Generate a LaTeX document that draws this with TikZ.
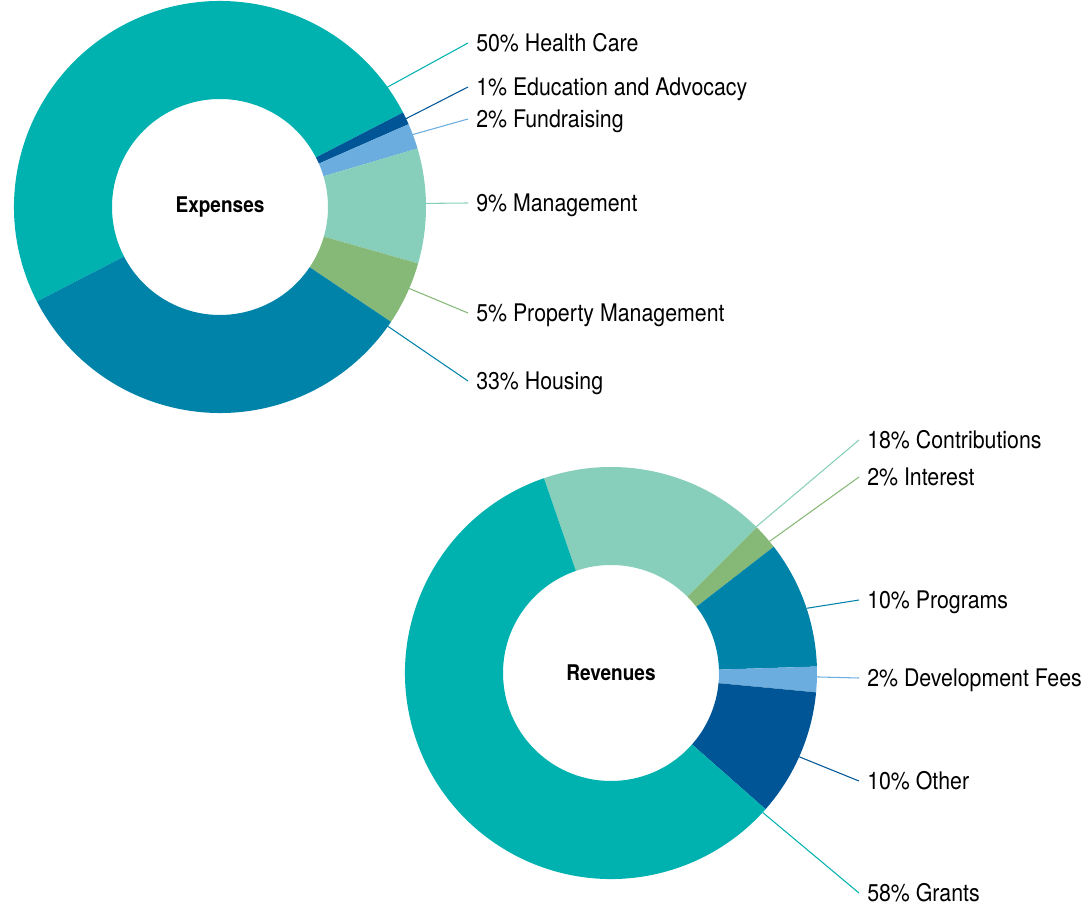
\documentclass[tikz,border=0pt]{standalone}
\usepackage{fontspec}
\setmainfont{TeX Gyre Heros}[FakeStretch=0.88]
\usetikzlibrary{calc}

\definecolor{ringTeal}{HTML}{00B2AF}
\definecolor{ringNavy}{HTML}{005596}
\definecolor{ringSky}{HTML}{6AADDE}
\definecolor{ringMint}{HTML}{87CFBA}
\definecolor{ringGreen}{HTML}{86B877}
\definecolor{ringBlue}{HTML}{0083A9}

\def\outR{206}
\def\inR{108}
% ring piece: centre, start angle, end angle, colour
\newcommand{\ringpart}[4]{%
  \fill[#4] ($(#1)+(#2:\outR)$) arc[start angle=#2, end angle=#3, radius=\outR]
    -- ($(#1)+(#3:\inR)$) arc[start angle=#3, end angle=#2, radius=\inR] -- cycle;}

\begin{document}
\begin{tikzpicture}[x=0.02cm,y=0.02cm,
    ttl/.style={font=\fontsize{12.3}{14}\selectfont\bfseries},
    lbl/.style={anchor=west,inner xsep=4.5pt,inner ysep=0pt,text height=9.8pt,text depth=0pt,
      font=\fontsize{13.8}{15}\selectfont},
    lead/.style={line width=0.6pt}]
\useasboundingbox (0,0) rectangle (1085,-908);

\node[ttl] (exp) at (220,-207) {Expenses};
\node[ttl] (rev) at (611,-673) {Revenues};

% expenses ring
\foreach \a/\b/\c in {27.3/207.3/ringTeal, 23.7/27.3/ringNavy, 16.5/23.7/ringSky,
    -15.9/16.5/ringMint, -33.9/-15.9/ringGreen, -152.7/-33.9/ringBlue}
  {\ringpart{exp}{\a}{\b}{\c}}

% revenues ring
\foreach \a/\b/\c in {45/109/ringMint, 37.8/45/ringGreen, 1.8/37.8/ringBlue,
    -5.4/1.8/ringSky, -41.4/-5.4/ringNavy, -251/-41.4/ringTeal}
  {\ringpart{rev}{\a}{\b}{\c}}

% expenses labels
\foreach \ang/\y/\col/\txt [count=\i] in {35.6/43/ringTeal/50\% Health Care,
    25.4/87/ringNavy/1\% Education and Advocacy, 20.6/119/ringSky/2\% Fundraising,
    1/203/ringMint/9\% Management, -23.3/313/ringGreen/5\% Property Management,
    -35.4/381/ringBlue/33\% Housing}
{
  \coordinate (e\i) at ($(exp)+(\ang:\outR)$);
  \node[lbl] (le\i) at (468,-\y) {\txt};
  \draw[lead,\col] (e\i) -- (le\i.west);
}

% revenues labels
\foreach \ang/\y/\col/\txt [count=\i] in {45.2/440/ringMint/18\% Contributions,
    39.7/477/ringGreen/2\% Interest, 18.3/600/ringBlue/10\% Programs,
    -1.1/678/ringSky/2\% Development Fees, -24/781/ringNavy/10\% Other,
    -42.6/893/ringTeal/58\% Grants}
{
  \coordinate (r\i) at ($(rev)+(\ang:\outR)$);
  \node[lbl] (lr\i) at (859,-\y) {\txt};
  \draw[lead,\col] (r\i) -- (lr\i.west);
}
\end{tikzpicture}
\end{document}
